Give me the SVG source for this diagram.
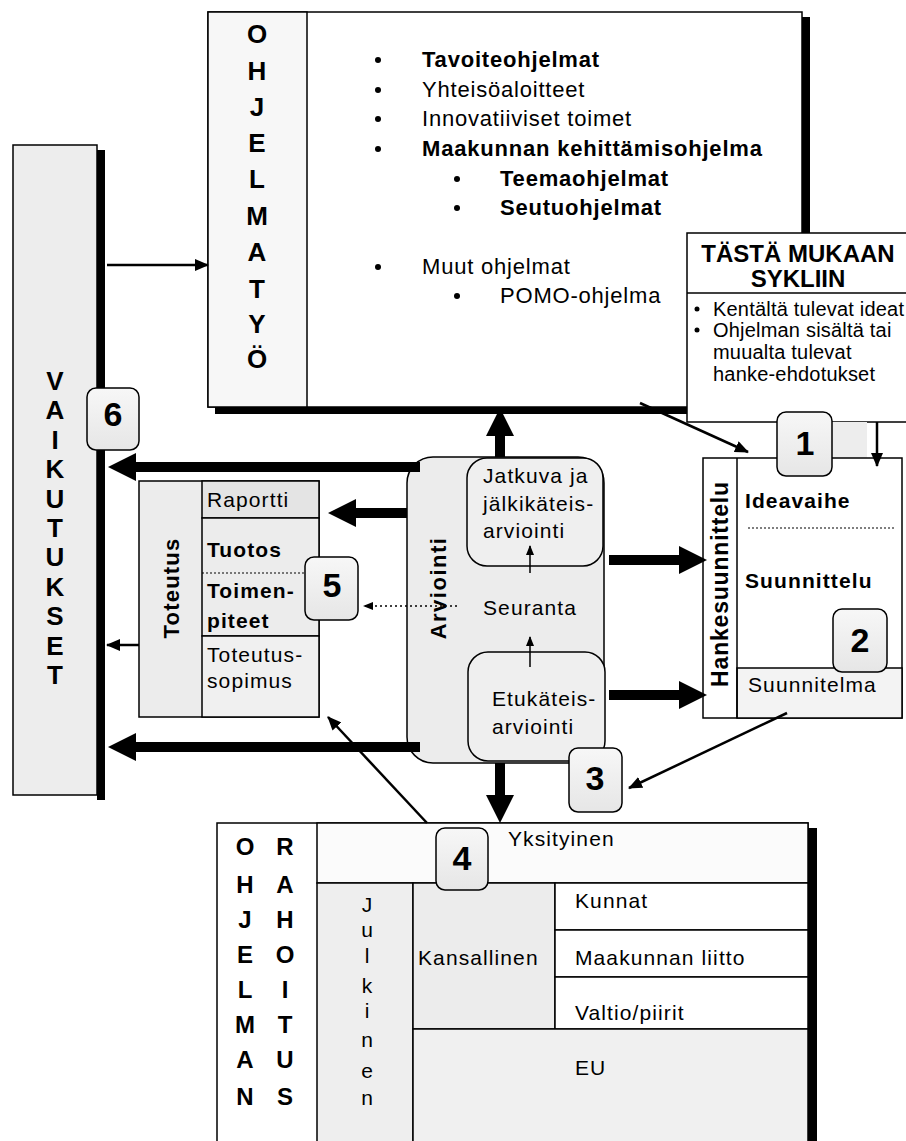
<svg xmlns="http://www.w3.org/2000/svg" width="906" height="1141" viewBox="0 0 906 1141">
<defs>
<style>
text{font-family:"Liberation Sans",Arial,Helvetica,sans-serif;fill:#000}
.b{font-weight:bold}
.L{font-size:24px;font-weight:bold;text-anchor:middle}
.XL{font-size:26px;font-weight:bold;text-anchor:middle}
.m{font-size:22px;letter-spacing:0.8px}
.r{font-size:21px;letter-spacing:1.1px}
.s{font-size:20px;letter-spacing:0.2px}
.n{font-size:34px;font-weight:bold;text-anchor:middle}
.ln{fill:none;stroke:#000;stroke-width:1.5}
.sh{fill:#000}
.bd{fill:url(#bg);stroke:#000;stroke-width:1.5}
.thick{stroke:#000;stroke-width:10;fill:none}
.thin{stroke:#000;stroke-width:2.5;fill:none}
</style>
<linearGradient id="bg" x1="0" y1="0" x2="0" y2="1"><stop offset="0" stop-color="#f7f7f7"/><stop offset="1" stop-color="#e6e6e6"/></linearGradient>
<marker id="big" viewBox="0 0 28 28" markerWidth="28" markerHeight="28" refX="0" refY="14" orient="auto" markerUnits="userSpaceOnUse"><path d="M0,0 L28,14 L0,28 z"/></marker>
<marker id="ah" viewBox="0 0 14 12" markerWidth="14" markerHeight="12" refX="13" refY="6" orient="auto" markerUnits="userSpaceOnUse"><path d="M0,0 L14,6 L0,12 z"/></marker>
<marker id="as" viewBox="0 0 10 8" markerWidth="10" markerHeight="8" refX="9" refY="4" orient="auto" markerUnits="userSpaceOnUse"><path d="M0,0 L10,4 L0,8 z"/></marker>
</defs>
<rect width="906" height="1141" fill="#fff"/>

<g id="ohjelmatyo">
<rect class="sh" x="215" y="407" width="595" height="7"/>
<rect class="sh" x="802" y="17" width="8" height="397"/>
<rect x="208" y="12" width="594" height="395" fill="#fff" stroke="#000" stroke-width="1.5"/>
<rect x="208" y="12" width="99" height="395" fill="#f7f7f7" stroke="#000" stroke-width="1.5"/>
<text class="XL" x="257" y="43">O</text>
<text class="XL" x="257" y="80">H</text>
<text class="XL" x="257" y="116">J</text>
<text class="XL" x="257" y="152">E</text>
<text class="XL" x="257" y="188">L</text>
<text class="XL" x="257" y="225">M</text>
<text class="XL" x="257" y="261">A</text>
<text class="XL" x="257" y="298">T</text>
<text class="XL" x="257" y="333">Y</text>
<text class="XL" x="257" y="368">Ö</text>
<g fill="#000">
<circle cx="378" cy="60" r="3"/><circle cx="378" cy="90" r="3"/><circle cx="378" cy="119" r="3"/><circle cx="378" cy="149" r="3"/>
<circle cx="457" cy="179" r="3"/><circle cx="457" cy="208" r="3"/><circle cx="378" cy="267" r="3"/><circle cx="457" cy="296" r="3"/>
</g>
<text class="m b" x="422" y="67">Tavoiteohjelmat</text>
<text class="m" x="422" y="97">Yhteisöaloitteet</text>
<text class="m" x="422" y="126">Innovatiiviset toimet</text>
<text class="m b" x="422" y="156">Maakunnan kehittämisohjelma</text>
<text class="m b" x="500" y="186">Teemaohjelmat</text>
<text class="m b" x="500" y="215">Seutuohjelmat</text>
<text class="m" x="422" y="274">Muut ohjelmat</text>
<text class="m" x="500" y="303">POMO-ohjelma</text>
</g>

<g id="tasta">
<rect x="687" y="233" width="225" height="189" fill="#fff" stroke="#000" stroke-width="1.5"/>
<line class="ln" x1="687" y1="293" x2="906" y2="293"/>
<text class="b" x="798" y="262" font-size="24" text-anchor="middle">TÄSTÄ MUKAAN</text>
<text class="b" x="798" y="287" font-size="24" text-anchor="middle">SYKLIIN</text>
<circle cx="697" cy="309" r="2.5"/><circle cx="697" cy="330" r="2.5"/>
<text class="s" x="713" y="316">Kentältä tulevat ideat</text>
<text class="s" x="713" y="337">Ohjelman sisältä tai</text>
<text class="s" x="713" y="359">muualta tulevat</text>
<text class="s" x="713" y="381">hanke-ehdotukset</text>
</g>
<rect x="830" y="422" width="37" height="36" fill="#ededed"/>

<g id="vaikutukset">
<rect class="sh" x="97" y="150" width="8" height="650"/>
<rect x="13" y="145" width="84" height="650" fill="#ededed" stroke="#000" stroke-width="1.5"/>
<text class="XL" x="55" y="390">V</text>
<text class="XL" x="55" y="419">A</text>
<text class="XL" x="55" y="449">I</text>
<text class="XL" x="55" y="478">K</text>
<text class="XL" x="55" y="508">U</text>
<text class="XL" x="55" y="537">T</text>
<text class="XL" x="55" y="566">U</text>
<text class="XL" x="55" y="596">K</text>
<text class="XL" x="55" y="625">S</text>
<text class="XL" x="55" y="655">E</text>
<text class="XL" x="55" y="684">T</text>
</g>

<g id="arviointi">
<rect x="407" y="457" width="197" height="306" rx="26" fill="#ececec" stroke="#000" stroke-width="1.5"/>
<text class="b" font-size="22" letter-spacing="1.5" text-anchor="middle" transform="translate(446 588) rotate(-90)">Arviointi</text>
<rect x="467" y="458" width="136" height="108" rx="20" fill="#efefef" stroke="#000" stroke-width="1.5"/>
<text class="r" x="483" y="483">Jatkuva ja</text>
<text class="r" x="483" y="511">jälkikäteis-</text>
<text class="r" x="483" y="538">arviointi</text>
<text class="r" x="483" y="615">Seuranta</text>
<rect x="468" y="652" width="137" height="109" rx="20" fill="#efefef" stroke="#000" stroke-width="1.5"/>
<text class="r" x="492" y="706">Etukäteis-</text>
<text class="r" x="492" y="734">arviointi</text>
</g>

<g id="toteutus">
<rect x="139" y="481" width="180" height="236" fill="#ececec" stroke="#000" stroke-width="1.5"/>
<rect x="202" y="481" width="117" height="37" fill="#e4e4e4" stroke="#000" stroke-width="1.5"/>
<rect x="202" y="518" width="117" height="118" fill="#ececec" stroke="#000" stroke-width="1.5"/>
<rect x="202" y="636" width="117" height="81" fill="#f0f0f0" stroke="#000" stroke-width="1.5"/>
<line x1="202" y1="573" x2="310" y2="573" stroke="#000" stroke-width="1.2" stroke-dasharray="2 2"/>
<text class="b" font-size="22" letter-spacing="1.2" text-anchor="middle" transform="translate(179 588) rotate(-90)">Toteutus</text>
<text class="r" x="207" y="507">Raportti</text>
<text class="r b" x="207" y="557">Tuotos</text>
<text class="r b" x="207" y="598">Toimen-</text>
<text class="r b" x="207" y="628">piteet</text>
<text class="r" x="207" y="662">Toteutus-</text>
<text class="r" x="207" y="688">sopimus</text>
</g>

<g id="hankesuunnittelu">
<rect x="703" y="458" width="199" height="260" fill="#fff" stroke="#000" stroke-width="1.5"/>
<rect x="737" y="668" width="165" height="50" fill="#f3f3f3" stroke="#000" stroke-width="1.5"/>
<line class="ln" x1="737" y1="458" x2="737" y2="718"/>
<text class="b" font-size="23" letter-spacing="0.8" text-anchor="middle" transform="translate(728 584) rotate(-90)">Hankesuunnittelu</text>
<text class="r b" x="745" y="508">Ideavaihe</text>
<line x1="748" y1="528" x2="895" y2="528" stroke="#000" stroke-width="1.2" stroke-dasharray="2 2"/>
<text class="r b" x="745" y="588">Suunnittelu</text>
<text class="r" x="748" y="692">Suunnitelma</text>
</g>

<g id="rahoitus">
<rect class="sh" x="808" y="828" width="9" height="313"/>
<rect x="217" y="823" width="591" height="320" fill="#fff" stroke="#000" stroke-width="1.5"/>
<rect x="317" y="823" width="491" height="60" fill="#fbfbfb" stroke="#000" stroke-width="1.5"/>
<rect x="317" y="883" width="96" height="260" fill="#eeeeee" stroke="#000" stroke-width="1.5"/>
<rect x="413" y="883" width="142" height="146" fill="#ececec" stroke="#000" stroke-width="1.5"/>
<rect x="555" y="883" width="253" height="47" fill="#fff" stroke="#000" stroke-width="1.5"/>
<rect x="555" y="930" width="253" height="47" fill="#fff" stroke="#000" stroke-width="1.5"/>
<rect x="555" y="977" width="253" height="52" fill="#fff" stroke="#000" stroke-width="1.5"/>
<rect x="413" y="1029" width="395" height="114" fill="#f0f0f0" stroke="#000" stroke-width="1.5"/>
<text class="L" x="245" y="855">O</text><text class="L" x="285" y="855">R</text>
<text class="L" x="245" y="893">H</text><text class="L" x="285" y="893">A</text>
<text class="L" x="245" y="928">J</text><text class="L" x="285" y="928">H</text>
<text class="L" x="245" y="963">E</text><text class="L" x="285" y="963">O</text>
<text class="L" x="245" y="998">L</text><text class="L" x="285" y="998">I</text>
<text class="L" x="245" y="1033">M</text><text class="L" x="285" y="1033">T</text>
<text class="L" x="245" y="1068">A</text><text class="L" x="285" y="1068">U</text>
<text class="L" x="245" y="1105">N</text><text class="L" x="285" y="1105">S</text>
<g font-size="21" text-anchor="middle">
<text x="367" y="912">J</text><text x="367" y="937">u</text><text x="367" y="963">l</text><text x="367" y="993">k</text>
<text x="367" y="1018">i</text><text x="367" y="1047">n</text><text x="367" y="1078">e</text><text x="367" y="1105">n</text>
</g>
<text class="r" x="508" y="846">Yksityinen</text>
<text class="r" x="418" y="965">Kansallinen</text>
<text class="r" x="575" y="908">Kunnat</text>
<text class="r" x="575" y="965">Maakunnan liitto</text>
<text class="r" x="575" y="1020">Valtio/piirit</text>
<text class="r" x="575" y="1075">EU</text>
</g>

<g id="connectors">
<line class="thick" x1="500" y1="457" x2="500" y2="436" marker-end="url(#big)"/>
<line class="thick" x1="500" y1="763" x2="500" y2="795" marker-end="url(#big)"/>
<line class="thick" x1="420" y1="467" x2="136" y2="467" marker-end="url(#big)"/>
<line class="thick" x1="407" y1="513" x2="356" y2="513" marker-end="url(#big)"/>
<line class="thick" x1="420" y1="747" x2="136" y2="747" marker-end="url(#big)"/>
<line class="thick" x1="609" y1="560" x2="679" y2="560" marker-end="url(#big)"/>
<line class="thick" x1="609" y1="695" x2="679" y2="695" marker-end="url(#big)"/>
<line class="thin" x1="107" y1="265" x2="208" y2="265" marker-end="url(#ah)"/>
<line class="thin" x1="139" y1="645" x2="107" y2="645" marker-end="url(#ah)"/>
<line class="thin" x1="640" y1="403" x2="748" y2="452" marker-end="url(#ah)"/>
<line class="thin" x1="877" y1="422" x2="877" y2="466" marker-end="url(#ah)"/>
<line class="thin" x1="787" y1="713" x2="629" y2="788" marker-end="url(#ah)"/>
<line class="thin" x1="427" y1="823" x2="328" y2="717" marker-end="url(#ah)"/>
<line stroke="#000" stroke-width="1.5" x1="530" y1="573" x2="530" y2="546" marker-end="url(#as)"/>
<line stroke="#000" stroke-width="1.5" x1="530" y1="667" x2="530" y2="637" marker-end="url(#as)"/>
<line stroke="#000" stroke-width="1.5" stroke-dasharray="2 3" x1="457" y1="606" x2="364" y2="606" marker-end="url(#as)"/>
</g>

<g id="badge1"><rect class="bd" x="777" y="412" width="55" height="64" rx="9"/><text class="n" x="805" y="455">1</text></g>
<g id="badge2"><rect class="bd" x="833" y="609" width="54" height="63" rx="9"/><text class="n" x="860" y="652">2</text></g>
<g id="badge3"><rect class="bd" x="569" y="748" width="53" height="64" rx="9"/><text class="n" x="595" y="790">3</text></g>
<g id="badge4"><rect class="bd" x="436" y="828" width="52" height="62" rx="9"/><text class="n" x="462" y="870">4</text></g>
<g id="badge5"><rect class="bd" x="305" y="557" width="53" height="63" rx="9"/><text class="n" x="332" y="597">5</text></g>
<g id="badge6"><rect class="bd" x="87" y="388" width="52" height="62" rx="9"/><text class="n" x="113" y="426">6</text></g>
</svg>
